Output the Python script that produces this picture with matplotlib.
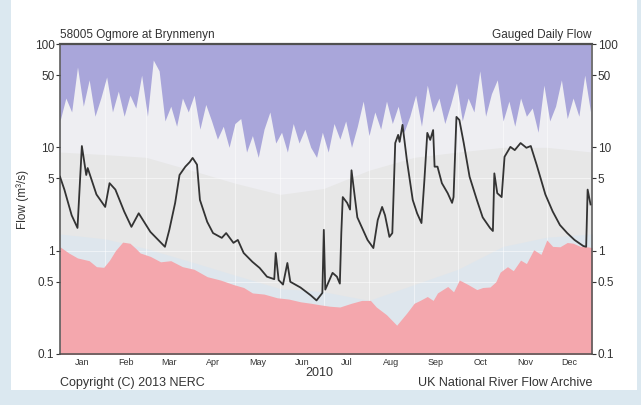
import matplotlib
matplotlib.use("Agg")
import matplotlib.pyplot as plt
import numpy as np

plt.rcParams["font.family"] = ["Liberation Sans", "DejaVu Sans"]

# gauged daily flow (day of year, m3/s)
flow_day = [0, 3, 8, 12, 15, 18, 19, 25, 31, 34, 38, 44, 49, 54, 62, 72, 75, 79, 82, 86,
            89, 91, 94, 96, 101, 105, 111, 114, 119, 122, 126, 132, 137, 142, 147, 148, 150,
            153, 156, 158, 165, 172, 176, 180, 181, 182, 187, 190, 192, 193, 194, 197, 199,
            200, 204, 211, 215, 218, 221, 223, 226, 228, 230, 232, 233, 235, 238, 242, 245,
            248, 250, 252, 254, 256, 257, 259, 262, 266, 269, 270, 272, 274, 277, 281, 286,
            290, 295, 297, 298, 300, 303, 305, 309, 312, 316, 320, 323, 327, 333, 338, 343,
            348, 353, 359, 361, 362, 364]
flow = [5.2, 3.9, 2.2, 1.66, 10.3, 5.4, 6.3, 3.5, 2.65, 4.5, 3.9, 2.4, 1.7, 2.3, 1.52, 1.09,
        1.59, 2.9, 5.4, 6.5, 7.2, 7.9, 6.8, 3.1, 1.9, 1.48, 1.33, 1.48, 1.19, 1.27, 0.95,
        0.78, 0.68, 0.56, 0.53, 0.95, 0.52, 0.47, 0.76, 0.5, 0.44, 0.37, 0.33, 0.39, 1.59,
        0.42, 0.61, 0.56, 0.48, 1.48, 3.3, 2.9, 2.5, 6.0, 2.1, 1.27, 1.06, 1.98, 2.65, 2.2,
        1.36, 1.48, 11.0, 13.2, 11.3, 16.5, 7.5, 3.1, 2.3, 1.85, 4.8, 13.8, 11.8, 14.7, 6.5,
        6.5, 4.5, 3.6, 2.9, 3.3, 19.7, 18.4, 11.0, 5.2, 3.1, 2.1, 1.66, 1.55, 5.6, 3.6, 3.3,
        8.1, 10.1, 9.4, 11.0, 9.9, 10.3, 6.8, 3.5, 2.4, 1.77, 1.48, 1.27, 1.11, 1.09, 3.9,
        2.8]

# period of record maximum daily flow (every 4 days)
max_day = list(range(0, 365, 4))
max_flow = [18, 30, 22, 60, 25, 45, 20, 30, 48, 22, 35, 20, 32, 24, 50, 20, 70, 55, 18, 25,
            16, 30, 22, 32, 15, 26, 18, 12, 16, 10, 17, 19, 9, 13, 8, 15, 22, 11, 14, 9,
            17, 11, 15, 10, 8, 14, 9, 17, 12, 18, 10, 16, 28, 13, 22, 15, 28, 17, 25, 14,
            20, 32, 16, 40, 22, 30, 17, 26, 42, 18, 30, 22, 55, 20, 33, 45, 18, 28, 16, 30,
            20, 24, 14, 40, 18, 25, 45, 19, 30, 20, 50, 22]

# period of record minimum daily flow
min_day = [0, 6, 12, 20, 25, 30, 34, 38, 43, 48, 52, 55, 62, 69, 76, 84, 92, 101, 110, 119,
           126, 132, 140, 149, 157, 165, 172, 178, 185, 192, 200, 207, 213, 217, 224, 231,
           238, 243, 247, 252, 256, 259, 266, 270, 274, 280, 286, 290, 295, 299, 302, 307,
           311, 316, 320, 325, 330, 334, 338, 343, 348, 352, 357, 362, 365]
min_flow = [1.09, 0.95, 0.85, 0.8, 0.70, 0.69, 0.81, 1.0, 1.21, 1.18, 1.05, 0.95, 0.88,
            0.78, 0.8, 0.70, 0.66, 0.56, 0.52, 0.47, 0.44, 0.39, 0.38, 0.35, 0.34, 0.32,
            0.31, 0.30, 0.29, 0.285, 0.31, 0.33, 0.33, 0.285, 0.24, 0.19, 0.25, 0.31, 0.33,
            0.36, 0.33, 0.39, 0.45, 0.40, 0.52, 0.47, 0.42, 0.44, 0.445, 0.5, 0.62, 0.70,
            0.64, 0.81, 0.75, 1.02, 0.92, 1.27, 1.1, 1.09, 1.2, 1.18, 1.1, 1.09, 1.07]

# upper / lower percentile bands
band_day = [0, 31, 59, 90, 120, 151, 181, 212, 243, 273, 304, 334, 365]
upper_pct = [9, 8.5, 8, 6, 4.5, 3.5, 4, 6, 8, 9, 10, 10, 9]
lower_pct = [1.45, 1.3, 1.05, 0.78, 0.58, 0.43, 0.4, 0.33, 0.47, 0.66, 1.1, 1.35, 1.45]

months = ["Jan", "Feb", "Mar", "Apr", "May", "Jun", "Jul", "Aug", "Sep", "Oct", "Nov", "Dec"]
month_start = [0, 31, 59, 90, 120, 151, 181, 212, 243, 273, 304, 334, 365]
yticks = [0.1, 0.5, 1, 5, 10, 50, 100]
ytick_labels = ["0.1", "0.5", "1", "5", "10", "50", "100"]

fig = plt.figure(figsize=(6.41, 4.05), dpi=100)
fig.patch.set_facecolor("#dbe8f0")
# white panel behind the chart
bg = fig.add_axes([11 / 641, 15 / 405, 626 / 641, 390 / 405], zorder=-5)
bg.set_facecolor("white")
bg.set_xticks([])
bg.set_yticks([])
for s in bg.spines.values():
    s.set_visible(False)

ax = fig.add_axes([60 / 641, 51 / 405, 532 / 641, 310 / 405])
ax.set_facecolor("#e7e7e7")
ax.set_yscale("log")
ax.set_xlim(0, 365)
ax.set_ylim(0.1, 100)

ax.fill_between(max_day, max_flow, 100, color="#a9a6da", lw=0, zorder=1)
ax.fill_between(band_day, upper_pct, 1000, color="#eeeef2", lw=0, zorder=0.5)
ax.fill_between(band_day, 0.01, lower_pct, color="#dee6ed", lw=0, zorder=0.6)
ax.fill_between(min_day, 0.01, min_flow, color="#f4a7ad", lw=0, zorder=1.2)

# faint grid, under the envelopes
for m in month_start[1:-1]:
    ax.axvline(m, color="white", lw=0.6, alpha=0.6, zorder=0.8)
for yv in [0.5, 1, 5]:
    ax.axhline(yv, color="white", lw=0.6, alpha=0.6, zorder=0.8)

ax.plot(flow_day, flow, color="#333333", lw=1.3, zorder=3)

for s in ax.spines.values():
    s.set_color("#505050")
    s.set_linewidth(1.1)
ax.spines["top"].set_linewidth(1.6)

ax.set_yticks(yticks)
ax.set_yticklabels(ytick_labels)
ax.yaxis.set_minor_locator(matplotlib.ticker.NullLocator())
ax.tick_params(axis="y", which="major", direction="out", length=3, width=0.8,
               labelsize=8.5, colors="#333333", left=True, right=True,
               labelleft=True, labelright=True, pad=1)

mid = [(month_start[i] + month_start[i + 1]) / 2 for i in range(12)]
ax.set_xticks(mid)
ax.set_xticklabels(months)
ax.tick_params(axis="x", length=0, labelsize=6.5, colors="#333333", pad=3)

ax.set_ylabel("Flow (m\u00b3/s)", fontsize=8.5, color="#333333", labelpad=4)
ax.text(0, 1.01, "58005 Ogmore at Brynmenyn", transform=ax.transAxes,
        fontsize=8.5, color="#333333", ha="left", va="bottom")
ax.text(1, 1.01, "Gauged Daily Flow", transform=ax.transAxes,
        fontsize=8.5, color="#333333", ha="right", va="bottom")
ax.text(178, 0.066, "2010", fontsize=9, color="#333333", ha="center", va="center")

fig.text(60 / 641, 1 - 383 / 405, "Copyright (C) 2013 NERC", fontsize=9,
         color="#333333", ha="left", va="center")
fig.text(592 / 641, 1 - 383 / 405, "UK National River Flow Archive", fontsize=9,
         color="#333333", ha="right", va="center")

fig.savefig("out.png", dpi=100, facecolor=fig.get_facecolor())
